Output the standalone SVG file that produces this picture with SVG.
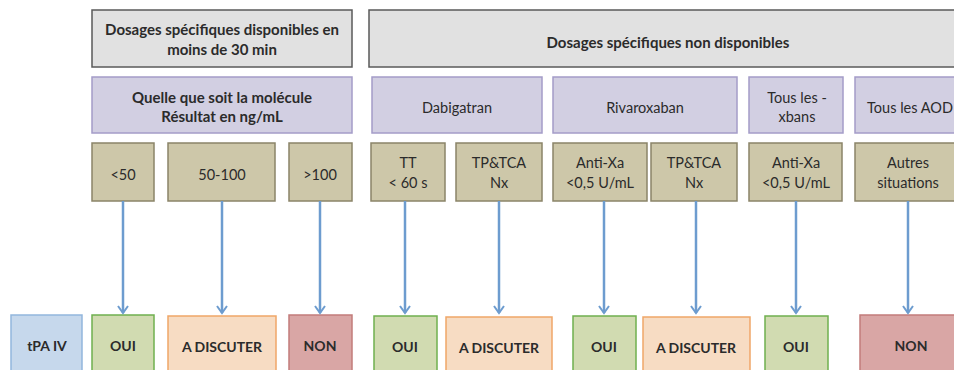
<svg xmlns="http://www.w3.org/2000/svg" width="954" height="370" viewBox="0 0 954 370">
<defs>
<marker id="ah" markerWidth="10" markerHeight="12" refX="8" refY="6" orient="auto" markerUnits="userSpaceOnUse" viewBox="0 0 10 12">
<path d="M1,1 L8,6 L1,11" fill="none" stroke="#6d9ccf" stroke-width="2"/>
</marker>
</defs>
<style>
text{font-family:Lato,"Open Sans","Liberation Sans",sans-serif;fill:#2b2b2b;text-anchor:middle;font-size:14.5px}
.b{font-weight:bold;font-size:15px}
.r{font-weight:bold;font-size:14px}
.gray{fill:#e1e1e1;stroke:#5a5a5a;stroke-width:1.5}
.pur{fill:#d2cfe2;stroke:#a49cc8;stroke-width:1.5}
.tan{fill:#cdc7a9;stroke:#8a8468;stroke-width:1.5}
.grn{fill:#d1dbb1;stroke:#6fb04f;stroke-width:1.5}
.org{fill:#f7dcc3;stroke:#f0a668;stroke-width:1.5}
.red{fill:#d9a6a5;stroke:#c27c7b;stroke-width:1.5}
.blu{fill:#c6d8ec;stroke:#92b6dd;stroke-width:1.5}
.con{stroke:#6d9ccf;stroke-width:2.5;fill:none}
</style>
<g id="hdr1"><rect class="gray" x="92" y="10" width="260" height="57"/><text class="b" x="222" y="35">Dosages spécifiques disponibles en</text><text class="b" x="222" y="55">moins de 30 min</text></g>
<g id="hdr2"><rect class="gray" x="369" y="10" width="598" height="57"/><text class="b" x="668" y="48">Dosages spécifiques non disponibles</text></g>
<g id="mol"><rect class="pur" x="92" y="77" width="260" height="56"/><text class="b" x="222" y="103">Quelle que soit la molécule</text><text class="b" x="222" y="122">Résultat en ng/mL</text></g>
<g id="dabi"><rect class="pur" x="372" y="77" width="170" height="56"/><text x="457" y="113">Dabigatran</text></g>
<g id="riva"><rect class="pur" x="553" y="77" width="184" height="56"/><text x="645" y="113">Rivaroxaban</text></g>
<g id="xbans"><rect class="pur" x="749" y="77" width="94" height="56"/><text x="797" y="103">Tous les -</text><text x="797" y="122">xbans</text></g>
<g id="aod"><rect class="pur" x="855" y="77" width="108" height="56"/><text x="910" y="113">Tous les AOD</text></g>
<g id="t1"><rect class="tan" x="92" y="143" width="62" height="58"/><text x="123" y="180">&lt;50</text></g>
<g id="t2"><rect class="tan" x="168" y="143" width="107" height="58"/><text x="222" y="180">50-100</text></g>
<g id="t3"><rect class="tan" x="289" y="143" width="63" height="58"/><text x="320" y="180">&gt;100</text></g>
<g id="t4"><rect class="tan" x="371" y="143" width="74" height="58"/><text x="408" y="168">TT</text><text x="408" y="188">&lt; 60 s</text></g>
<g id="t5"><rect class="tan" x="456" y="143" width="86" height="58"/><text x="499" y="168">TP&amp;TCA</text><text x="499" y="188">Nx</text></g>
<g id="t6"><rect class="tan" x="553" y="143" width="94" height="58"/><text x="600" y="168">Anti-Xa</text><text x="600" y="188">&lt;0,5 U/mL</text></g>
<g id="t7"><rect class="tan" x="651" y="143" width="86" height="58"/><text x="694" y="168">TP&amp;TCA</text><text x="694" y="188">Nx</text></g>
<g id="t8"><rect class="tan" x="749" y="143" width="93" height="58"/><text x="796" y="168">Anti-Xa</text><text x="796" y="188">&lt;0,5 U/mL</text></g>
<g id="t9"><rect class="tan" x="855" y="143" width="108" height="58"/><text x="908" y="168">Autres</text><text x="908" y="188">situations</text></g>
<g id="r0"><rect class="blu" x="11" y="315" width="71" height="65"/><text class="r" x="47" y="351">tPA IV</text></g>
<g id="r1"><rect class="grn" x="92" y="315" width="62" height="65"/><text class="r" x="123" y="351">OUI</text></g>
<g id="r2"><rect class="org" x="168" y="316" width="108" height="65"/><text class="r" x="222" y="352">A DISCUTER</text></g>
<g id="r3"><rect class="red" x="289" y="315" width="63" height="65"/><text class="r" x="320" y="351">NON</text></g>
<g id="r4"><rect class="grn" x="374" y="316" width="63" height="65"/><text class="r" x="405" y="352">OUI</text></g>
<g id="r5"><rect class="org" x="446" y="317" width="106" height="65"/><text class="r" x="499" y="353">A DISCUTER</text></g>
<g id="r6"><rect class="grn" x="573" y="316" width="63" height="65"/><text class="r" x="604" y="352">OUI</text></g>
<g id="r7"><rect class="org" x="643" y="317" width="107" height="65"/><text class="r" x="696" y="353">A DISCUTER</text></g>
<g id="r8"><rect class="grn" x="765" y="316" width="63" height="65"/><text class="r" x="796" y="352">OUI</text></g>
<g id="r9"><rect class="red" x="860" y="315" width="105" height="65"/><text class="r" x="911" y="351">NON</text></g>
<g id="connectors">
<line class="con" x1="123" y1="201" x2="123" y2="313" marker-end="url(#ah)"/>
<line class="con" x1="222" y1="201" x2="222" y2="313" marker-end="url(#ah)"/>
<line class="con" x1="320" y1="201" x2="320" y2="313" marker-end="url(#ah)"/>
<line class="con" x1="405" y1="201" x2="405" y2="313" marker-end="url(#ah)"/>
<line class="con" x1="499" y1="201" x2="499" y2="313" marker-end="url(#ah)"/>
<line class="con" x1="604" y1="201" x2="604" y2="313" marker-end="url(#ah)"/>
<line class="con" x1="696" y1="201" x2="696" y2="313" marker-end="url(#ah)"/>
<line class="con" x1="796" y1="201" x2="796" y2="313" marker-end="url(#ah)"/>
<line class="con" x1="908" y1="201" x2="908" y2="313" marker-end="url(#ah)"/>
</g>
</svg>
